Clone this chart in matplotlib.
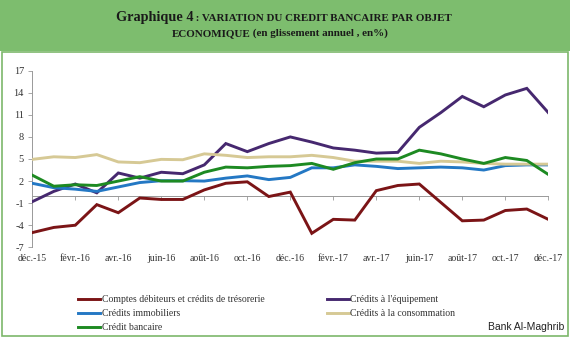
import matplotlib
matplotlib.use("Agg")
import matplotlib.pyplot as plt
from matplotlib.patches import Rectangle

months = ["déc.-15", "janv.-16", "févr.-16", "mars-16", "avr.-16", "mai-16", "juin-16",
          "juil.-16", "août-16", "sept.-16", "oct.-16", "nov.-16", "déc.-16",
          "janv.-17", "févr.-17", "mars-17", "avr.-17", "mai-17", "juin-17",
          "juil.-17", "août-17", "sept.-17", "oct.-17", "nov.-17", "déc.-17"]

comptes_debiteurs = [-5.0, -4.3, -4.0, -1.2, -2.3, -0.3, -0.5, -0.5, 0.8, 1.7, 1.9, -0.1,
                     0.5, -5.1, -3.2, -3.3, 0.7, 1.4, 1.6, -0.9, -3.4, -3.3, -2.0, -1.8, -3.2]
equipement = [-0.8, 0.6, 1.6, 0.4, 3.1, 2.4, 3.2, 3.0, 4.2, 7.1, 6.0, 7.1,
              8.0, 7.3, 6.5, 6.2, 5.8, 5.9, 9.3, 11.3, 13.5, 12.1, 13.7, 14.6, 11.3]
immobiliers = [1.7, 1.1, 0.9, 0.6, 1.2, 1.8, 2.05, 2.05, 2.0, 2.4, 2.7, 2.2,
               2.5, 3.8, 3.8, 4.2, 4.0, 3.7, 3.8, 3.9, 3.8, 3.5, 4.1, 4.2, 4.2]
consommation = [4.95, 5.3, 5.2, 5.6, 4.6, 4.5, 4.95, 4.9, 5.7, 5.5, 5.2, 5.3,
                5.3, 5.5, 5.2, 4.7, 4.7, 4.7, 4.4, 4.7, 4.6, 4.4, 4.3, 4.3, 4.3]
credit_bancaire = [2.8, 1.3, 1.5, 1.4, 2.0, 2.6, 2.0, 2.0, 3.2, 3.9, 3.8, 4.0,
                   4.1, 4.4, 3.6, 4.5, 5.0, 5.0, 6.2, 5.7, 5.0, 4.4, 5.2, 4.8, 2.9]

series_labels = ["Comptes débiteurs et crédits de trésorerie", "Crédits à l'équipement",
                 "Crédits immobiliers", "Crédits à la consommation", "Crédit bancaire"]
y_ticks = [-7, -4, -1, 2, 5, 8, 11, 14, 17]

W, H = 570, 337
fig = plt.figure(figsize=(W / 100, H / 100), dpi=100)
fig.patch.set_facecolor("white")

SERIF = ["Liberation Serif", "DejaVu Serif"]

# header band and frame
HDR = 51
hdr_green = "#7dbd6e"
fig.patches.append(Rectangle((0, 1 - HDR / H), 1, HDR / H, transform=fig.transFigure,
                             facecolor=hdr_green, edgecolor="none", zorder=0))
fig.patches.append(Rectangle((1.5 / W, 1.5 / H), (W - 4) / W, (H - HDR - 2) / H,
                             transform=fig.transFigure,
                             facecolor="none", edgecolor="#7db86b", lw=1.2, zorder=1))

# title
r = fig.canvas.get_renderer()
tc = "#1a1a1a"
t1a = fig.text(0, 0, "Graphique 4", fontsize=10.3, fontweight="bold", family=SERIF, color=tc)
t1b = fig.text(0, 0, " : VARIATION DU CREDIT BANCAIRE PAR OBJET", fontsize=7.9, fontweight="bold",
               family=SERIF, color=tc)
wa = t1a.get_window_extent(r).width
wb = t1b.get_window_extent(r).width
x0 = (284 - (wa + wb) / 2)
ybase = H - 21
t1a.set_position((x0 / W, ybase / H))
t1b.set_position(((x0 + wa) / W, ybase / H))
t2a = fig.text(0, 0, "ECONOMIQUE", fontsize=7.9, fontweight="bold", family=SERIF, color=tc)
t2b = fig.text(0, 0, " (en glissement annuel , en%)", fontsize=7.9, fontweight="bold",
               family=SERIF, color=tc)
wa2 = t2a.get_window_extent(r).width
wb2 = t2b.get_window_extent(r).width
x2 = (280 - (wa2 + wb2) / 2)
yb2 = H - 36
t2a.set_position((x2 / W, yb2 / H))
t2b.set_position(((x2 + wa2) / W, yb2 / H))

# plot axes
left, right, top, bottom = 32.3, 548.3, 70.7, 247.3
ax = fig.add_axes([left / W, 1 - bottom / H, (right - left) / W, (bottom - top) / H])
ax.set_facecolor("none")
x = list(range(len(months)))
colors = ["#7b1416", "#46286f", "#2478c4", "#d6c995", "#1d8a22"]
data = [comptes_debiteurs, equipement, immobiliers, consommation, credit_bancaire]
for vals, c, lab in zip(data, colors, series_labels):
    ax.plot(x, vals, color=c, lw=2.1, label=lab, solid_joinstyle="miter", zorder=3)

ax.set_xlim(0, len(months) - 1)
ax.set_ylim(-7, 17)
ax.set_yticks(y_ticks)
ax.set_yticklabels([str(v) for v in y_ticks], family=SERIF, fontsize=7.5, color="#333333")
ax.tick_params(axis="y", length=3, width=0.6, color="#999999", pad=3)
for s in ["top", "right", "bottom"]:
    ax.spines[s].set_visible(False)
ax.spines["left"].set_color("#999999")
ax.spines["left"].set_linewidth(0.7)

tick_pos = list(range(0, len(months), 2))
ax.set_xticks(tick_pos)
ax.set_xticklabels([months[i] for i in tick_pos], family=SERIF, fontsize=7, color="#333333")
ax.tick_params(axis="x", length=0, pad=5)

zero = ax.secondary_xaxis(7 / 24)
zero.set_xticks(tick_pos)
zero.set_xticklabels([])
zero.tick_params(axis="x", length=3, width=0.6, color="#999999", direction="out")
zero.spines["bottom"].set_color("#999999")
zero.spines["bottom"].set_linewidth(0.7)

# legend
leg_rows = [299, 313, 327]
cols = [(78, 100), (327, 349)]
for ci, (xa, xb) in enumerate(cols):
    idxs = [0, 2, 4] if ci == 0 else [1, 3]
    for ri, idx in enumerate(idxs):
        yy = 1 - leg_rows[ri] / H
        fig.add_artist(plt.Line2D([xa / W, xb / W], [yy, yy], transform=fig.transFigure,
                                  color=colors[idx], lw=2.1))
        fig.text((xb + 1.5) / W, yy, series_labels[idx], family=SERIF, fontsize=7,
                 va="center", ha="left", color="#333333")

fig.text(564 / W, 1 - 327 / H, "Bank Al-Maghrib", family=["Liberation Sans", "DejaVu Sans"],
         fontsize=7.5, ha="right", va="center", color="#222222")

fig.savefig("out.png", dpi=100, facecolor="white")
